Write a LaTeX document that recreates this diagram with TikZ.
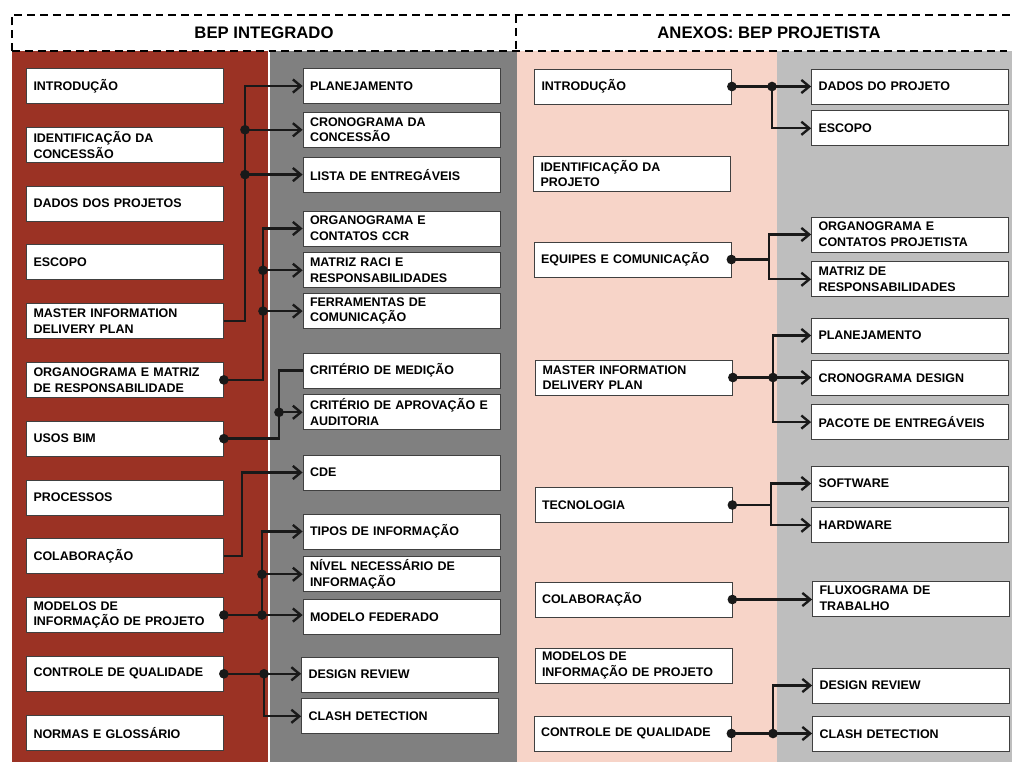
\documentclass[tikz,border=0pt]{standalone}
\usepackage{fontspec}
\setmainfont{Liberation Sans}
\usetikzlibrary{positioning,arrows.meta}

\definecolor{bepred}{RGB}{155,50,36}
\definecolor{bepgray}{RGB}{128,128,128}
\definecolor{annexpink}{RGB}{247,212,200}
\definecolor{annexgray}{RGB}{190,190,190}

\begin{document}
\begin{tikzpicture}[
    x=0.02cm, y=-0.02cm,
    box/.style={
        rectangle, draw=black!75, line width=0.45pt, fill=white,
        text width=3.66cm, inner xsep=0.14cm, inner ysep=0pt,
        minimum height=0.7cm, align=left,
        font=\bfseries\fontsize{7.1}{8.9}\selectfont
    },
    arrow/.style={-{Straight Barb[length=4.5pt,width=7.5pt]}, line width=1.35pt, draw=black!90},
    link/.style={line width=1.35pt, draw=black!90},
    dot/.style={circle, fill=black!90, inner sep=0pt, minimum size=5.5pt},
    head/.style={font=\bfseries\fontsize{9.5}{11}\selectfont},
    frame/.style={line width=1.3pt, dash pattern=on 4.5pt off 2.8pt}
]

\useasboundingbox (0,0) rectangle (1012,762);
\fill[white] (0,0) rectangle (1012,762);

% Column backgrounds
\fill[bepred] (12,51) rectangle (268,762);
\fill[bepgray] (270,51) rectangle (517,762);
\fill[annexpink] (517,51) rectangle (777,762);
\fill[annexgray] (777,51) rectangle (1012,762);

% Header
\node[head] (hleft) at (264,33) {BEP INTEGRADO};
\node[head] (hright) at (769,33) {ANEXOS: BEP PROJETISTA};
\draw[frame] (12,51) -- (12,15) -- (1012,15);
\draw[frame] (12,51) -- (1012,51);
\draw[frame] (516,15) -- (516,51);

% BEP integrado: chapters
\node[box] (l1) at (125,86) {INTRODUÇÃO};
\node[box, below=0.46cm of l1] (l2) {IDENTIFICAÇÃO DA\\CONCESSÃO};
\node[box, below=0.46cm of l2] (l3) {DADOS DOS PROJETOS};
\node[box, below=0.46cm of l3] (l4) {ESCOPO};
\node[box, below=0.46cm of l4] (l5) {MASTER INFORMATION\\DELIVERY PLAN};
\node[box, below=0.46cm of l5] (l6) {ORGANOGRAMA E MATRIZ\\DE RESPONSABILIDADE};
\node[box, below=0.46cm of l6] (l7) {USOS BIM};
\node[box, below=0.46cm of l7] (l8) {PROCESSOS};
\node[box, below=0.46cm of l8] (l9) {COLABORAÇÃO};
\node[box, below=0.46cm of l9] (l10) {MODELOS DE\\INFORMAÇÃO DE PROJETO};
\node[box, below=0.46cm of l10] (l11) {CONTROLE DE QUALIDADE};
\node[box, below=0.46cm of l11] (l12) {NORMAS E GLOSSÁRIO};

% BEP integrado: sections
\node[box] (m1) at (401.5,86) {PLANEJAMENTO};
\node[box, below=0.16cm of m1] (m2) {CRONOGRAMA DA\\CONCESSÃO};
\node[box, below=0.18cm of m2] (m3) {LISTA DE ENTREGÁVEIS};
\node[box] (m4) at (401.5,228.5) {ORGANOGRAMA E\\CONTATOS CCR};
\node[box, below=0.12cm of m4] (m5) {MATRIZ RACI E\\RESPONSABILIDADES};
\node[box, below=0.1cm of m5] (m6) {FERRAMENTAS DE\\COMUNICAÇÃO};
\node[box] (m7) at (401.5,370.5) {CRITÉRIO DE MEDIÇÃO};
\node[box, below=0.12cm of m7] (m8) {CRITÉRIO DE APROVAÇÃO E\\AUDITORIA};
\node[box] (m9) at (401.5,472.5) {CDE};
\node[box] (m10) at (401.5,531.5) {TIPOS DE INFORMAÇÃO};
\node[box, below=0.14cm of m10] (m11) {NÍVEL NECESSÁRIO DE\\INFORMAÇÃO};
\node[box, below=0.14cm of m11] (m12) {MODELO FEDERADO};
\node[box] (m13) at (400,674.5) {DESIGN REVIEW};
\node[box, below=0.12cm of m13] (m14) {CLASH DETECTION};

% Anexos: chapters
\node[box] (r1) at (633,86.5) {INTRODUÇÃO};
\node[box] (r2) at (632,173.5) {IDENTIFICAÇÃO DA\\PROJETO};
\node[box] (r3) at (632.5,259.5) {EQUIPES E COMUNICAÇÃO};
\node[box] (r4) at (634,377.5) {MASTER INFORMATION\\DELIVERY PLAN};
\node[box] (r5) at (633.5,505) {TECNOLOGIA};
\node[box] (r6) at (633.5,599.5) {COLABORAÇÃO};
\node[box] (r7) at (633.5,665.5) {MODELOS DE\\INFORMAÇÃO DE PROJETO};
\node[box] (r8) at (632.5,733.5) {CONTROLE DE QUALIDADE};

% Anexos: sections
\node[box] (s1) at (910,86.5) {DADOS DO PROJETO};
\node[box, below=0.12cm of s1] (s2) {ESCOPO};
\node[box] (s3) at (910,234.5) {ORGANOGRAMA E\\CONTATOS PROJETISTA};
\node[box, below=0.18cm of s3] (s4) {MATRIZ DE\\RESPONSABILIDADES};
\node[box] (s5) at (910,335.5) {PLANEJAMENTO};
\node[box, below=0.14cm of s5] (s6) {CRONOGRAMA DESIGN};
\node[box, below=0.16cm of s6] (s7) {PACOTE DE ENTREGÁVEIS};
\node[box] (s8) at (910,483.5) {SOFTWARE};
\node[box, below=0.12cm of s8] (s9) {HARDWARE};
\node[box] (s10) at (911,598.5) {FLUXOGRAMA DE\\TRABALHO};
\node[box] (s11) at (911,685.5) {DESIGN REVIEW};
\node[box, below=0.26cm of s11] (s12) {CLASH DETECTION};

% Trunk positions
\coordinate (t1) at (245,0);
\coordinate (t2) at (263,0);
\coordinate (t3) at (279,0);
\coordinate (t4) at (242,0);
\coordinate (t5) at (262,0);
\coordinate (t6) at (264,0);
\coordinate (t7) at (772,0);
\coordinate (t8) at (769,0);
\coordinate (t9) at (773,0);
\coordinate (t10) at (771,0);

% Connectors: BEP integrado
\draw[arrow] (l5.east) -| (t1 |- m1) -- (m1.west);
\draw[arrow] (t1 |- m2) node[dot] {} -- (m2.west);
\draw[arrow] (t1 |- m3) node[dot] {} -- (m3.west);

\draw[arrow] (l6.east) node[dot] {} -| (t2 |- m4) -- (m4.west);
\draw[arrow] (t2 |- m5) node[dot] {} -- (m5.west);
\draw[arrow] (t2 |- m6) node[dot] {} -- (m6.west);

\draw[link] (l7.east) node[dot] {} -| (t3 |- m7) -- (m7.west);
\draw[arrow] (t3 |- m8) node[dot] {} -- (m8.west);

\draw[arrow] (l9.east) -| (t4 |- m9) -- (m9.west);

\draw[arrow] (l10.east) node[dot] {} -- (l10.east -| m12.west);
\draw[arrow] (t5 |- l10) node[dot] {} |- (m10.west);
\draw[arrow] (t5 |- m11) node[dot] {} -- (m11.west);

\draw[arrow] (l11.east) node[dot] {} -- (l11.east -| m13.west);
\draw[arrow] (t6 |- l11) node[dot] {} |- (m14.west);

% Connectors: anexos
\draw[arrow] (r1.east) node[dot] {} -- (r1.east -| s1.west);
\draw[arrow] (t7 |- r1) node[dot] {} |- (s2.west);

\draw[arrow] (r3.east) node[dot] {} -| (t8 |- s3) -- (s3.west);
\draw[arrow] (t8 |- r3) |- (s4.west);

\draw[arrow] (r4.east) node[dot] {} -- (r4.east -| s6.west);
\draw[arrow] (t9 |- r4) node[dot] {} |- (s5.west);
\draw[arrow] (t9 |- r4) |- (s7.west);

\draw[arrow] (r5.east) node[dot] {} -| (t10 |- s8) -- (s8.west);
\draw[arrow] (t10 |- r5) |- (s9.west);

\draw[arrow] (r6.east) node[dot] {} -- (r6.east -| s10.west);

\draw[arrow] (r8.east) node[dot] {} -- (r8.east -| s12.west);
\draw[arrow] (t9 |- r8) node[dot] {} |- (s11.west);

\end{tikzpicture}
\end{document}
